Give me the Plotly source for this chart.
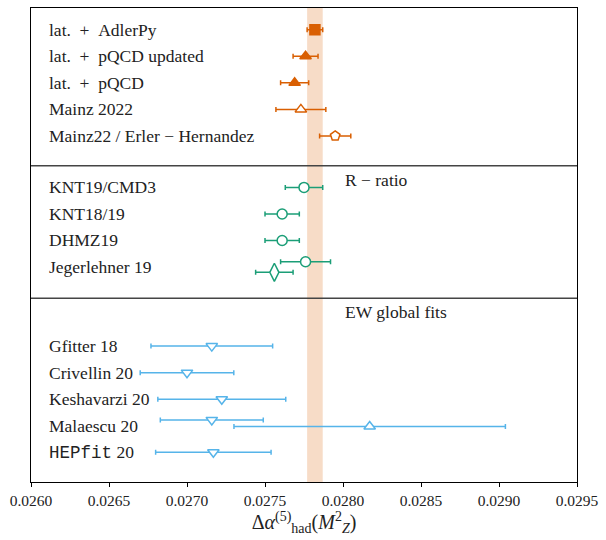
import plotly.graph_objects as go

# ---------------- data ----------------
lat_labels = ["lat.\u2002+\u2002AdlerPy", "lat.\u2002+\u2002pQCD updated", "lat.\u2002+\u2002pQCD",
              "Mainz 2022", "Mainz22 / Erler \u2212 Hernandez"]
lat_values = [0.02782, 0.02776, 0.02769, 0.02773, 0.02795]
lat_errors = [0.00005, 0.00008, 0.00009, 0.00016, 0.00010]

r_labels = ["KNT19/CMD3", "KNT18/19", "DHMZ19", "Jegerlehner 19"]
r_point_row = [0, 1, 2, 3, 3]
r_values = [0.02775, 0.02761, 0.02761, 0.02776, 0.02756]
r_errors = [0.00012, 0.00011, 0.00011, 0.00016, 0.00012]

ew_labels = ["Gfitter 18", "Crivellin 20", "Keshavarzi 20", "Malaescu 20",
             '<span style="font-family:\'Liberation Mono\',monospace">HEPfit</span> 20']
ew_point_row = [0, 1, 2, 3, 3, 4]
ew_values = [0.027159, 0.02700, 0.027223, 0.027159, 0.028171, 0.027169]
ew_errors = [0.00039, 0.00030, 0.00041, 0.00033, 0.00087, 0.00037]

x_ticks = [0.0260, 0.0265, 0.0270, 0.0275, 0.0280, 0.0285, 0.0290, 0.0295]

# ---------------- styles / layout positions ----------------
ORANGE = "#d95f02"
GREEN = "#1b9e77"
BLUE = "#56b4e9"
FONT = "'Liberation Serif', 'DejaVu Serif', serif"

lat_sym = [("square", ORANGE, 10), ("triangle-up", ORANGE, 10), ("triangle-up", ORANGE, 10),
           ("triangle-up", "white", 10), ("pentagon", "white", 10)]
r_sym = [("circle", "white", 10)] * 4 + [("diamond-tall", "white", 13)]
r_off = [0, 0, 0, -0.2, 0.2]
ew_sym = [("triangle-down", "white", 10)] * 4 + [("triangle-up", "white", 10), ("triangle-down", "white", 10)]
ew_off = [0, 0, 0, -0.22, 0.03, 0]

p1_start, p2_start, p3_start = 0.82, 6.76, 12.74
div1, div2 = 5.94, 10.94
y_bottom = 17.86
label_x = 0.026103

fig = go.Figure()


def add_point(x, err, y, sym, fillc, size, col):
    fig.add_trace(go.Scatter(
        x=[x], y=[y], mode="markers",
        marker=dict(symbol=sym, color=fillc, size=size, line=dict(color=col, width=1.5)),
        error_x=dict(type="data", array=[err], color=col, thickness=1.5, width=2.5),
        showlegend=False, hoverinfo="x+y"))


for i, (v, e) in enumerate(zip(lat_values, lat_errors)):
    s, f, sz = lat_sym[i]
    add_point(v, e, p1_start + i, s, f, sz, ORANGE)

for i, (v, e) in enumerate(zip(r_values, r_errors)):
    s, f, sz = r_sym[i]
    add_point(v, e, p2_start + r_point_row[i] + r_off[i], s, f, sz, GREEN)

for i, (v, e) in enumerate(zip(ew_values, ew_errors)):
    s, f, sz = ew_sym[i]
    add_point(v, e, p3_start + ew_point_row[i] + ew_off[i], s, f, sz, BLUE)

annotations = []
for start, labels in ((p1_start, lat_labels), (p2_start, r_labels), (p3_start, ew_labels)):
    for i, lab in enumerate(labels):
        annotations.append(dict(x=label_x, y=start + i, xref="x", yref="y", text=lab,
                                showarrow=False, xanchor="left", yanchor="middle",
                                font=dict(family=FONT, size=17.5, color="#222")))
annotations.append(dict(x=0.0280, y=6.47, xref="x", yref="y", text="R \u2212 ratio",
                        showarrow=False, xanchor="left", yanchor="middle",
                        font=dict(family=FONT, size=17.5, color="#222")))
annotations.append(dict(x=0.0280, y=11.45, xref="x", yref="y", text="EW global fits",
                        showarrow=False, xanchor="left", yanchor="middle",
                        font=dict(family=FONT, size=17.5, color="#222")))

band_lo = lat_values[0] - lat_errors[0]
band_hi = lat_values[0] + lat_errors[0]
shapes = [
    dict(type="rect", xref="x", yref="paper", x0=band_lo, x1=band_hi, y0=0, y1=1,
         fillcolor="rgba(217,95,2,0.22)", line=dict(width=0), layer="below"),
    dict(type="line", xref="paper", yref="y", x0=0, x1=1, y0=div1, y1=div1,
         line=dict(color="#444", width=1.5)),
    dict(type="line", xref="paper", yref="y", x0=0, x1=1, y0=div2, y1=div2,
         line=dict(color="#444", width=1.5)),
]

fig.update_layout(
    width=606, height=540,
    margin=dict(l=31, r=24, t=7, b=58),
    paper_bgcolor="white", plot_bgcolor="white",
    annotations=annotations, shapes=shapes,
    font=dict(family=FONT, color="#222"),
    xaxis=dict(range=[x_ticks[0], x_ticks[-1]], tickvals=x_ticks,
               ticktext=[f"{t:.4f}" for t in x_ticks],
               ticks="outside", ticklen=4, tickwidth=1, tickcolor="black",
               showline=True, mirror=True, linecolor="black", linewidth=1,
               showgrid=False, zeroline=False,
               tickfont=dict(family=FONT, size=15.5, color="#222"),
               title=dict(text="\u0394<i>\u03b1</i><sup>(5)</sup><sub>had</sub>(<i>M</i><sup>2</sup><sub><i>Z</i></sub>)",
                          font=dict(family=FONT, size=20, color="#222"), standoff=6)),
    yaxis=dict(range=[y_bottom, 0], showticklabels=False, ticks="",
               showline=True, mirror=True, linecolor="black", linewidth=1,
               showgrid=False, zeroline=False),
)

fig.write_html("out.html")
